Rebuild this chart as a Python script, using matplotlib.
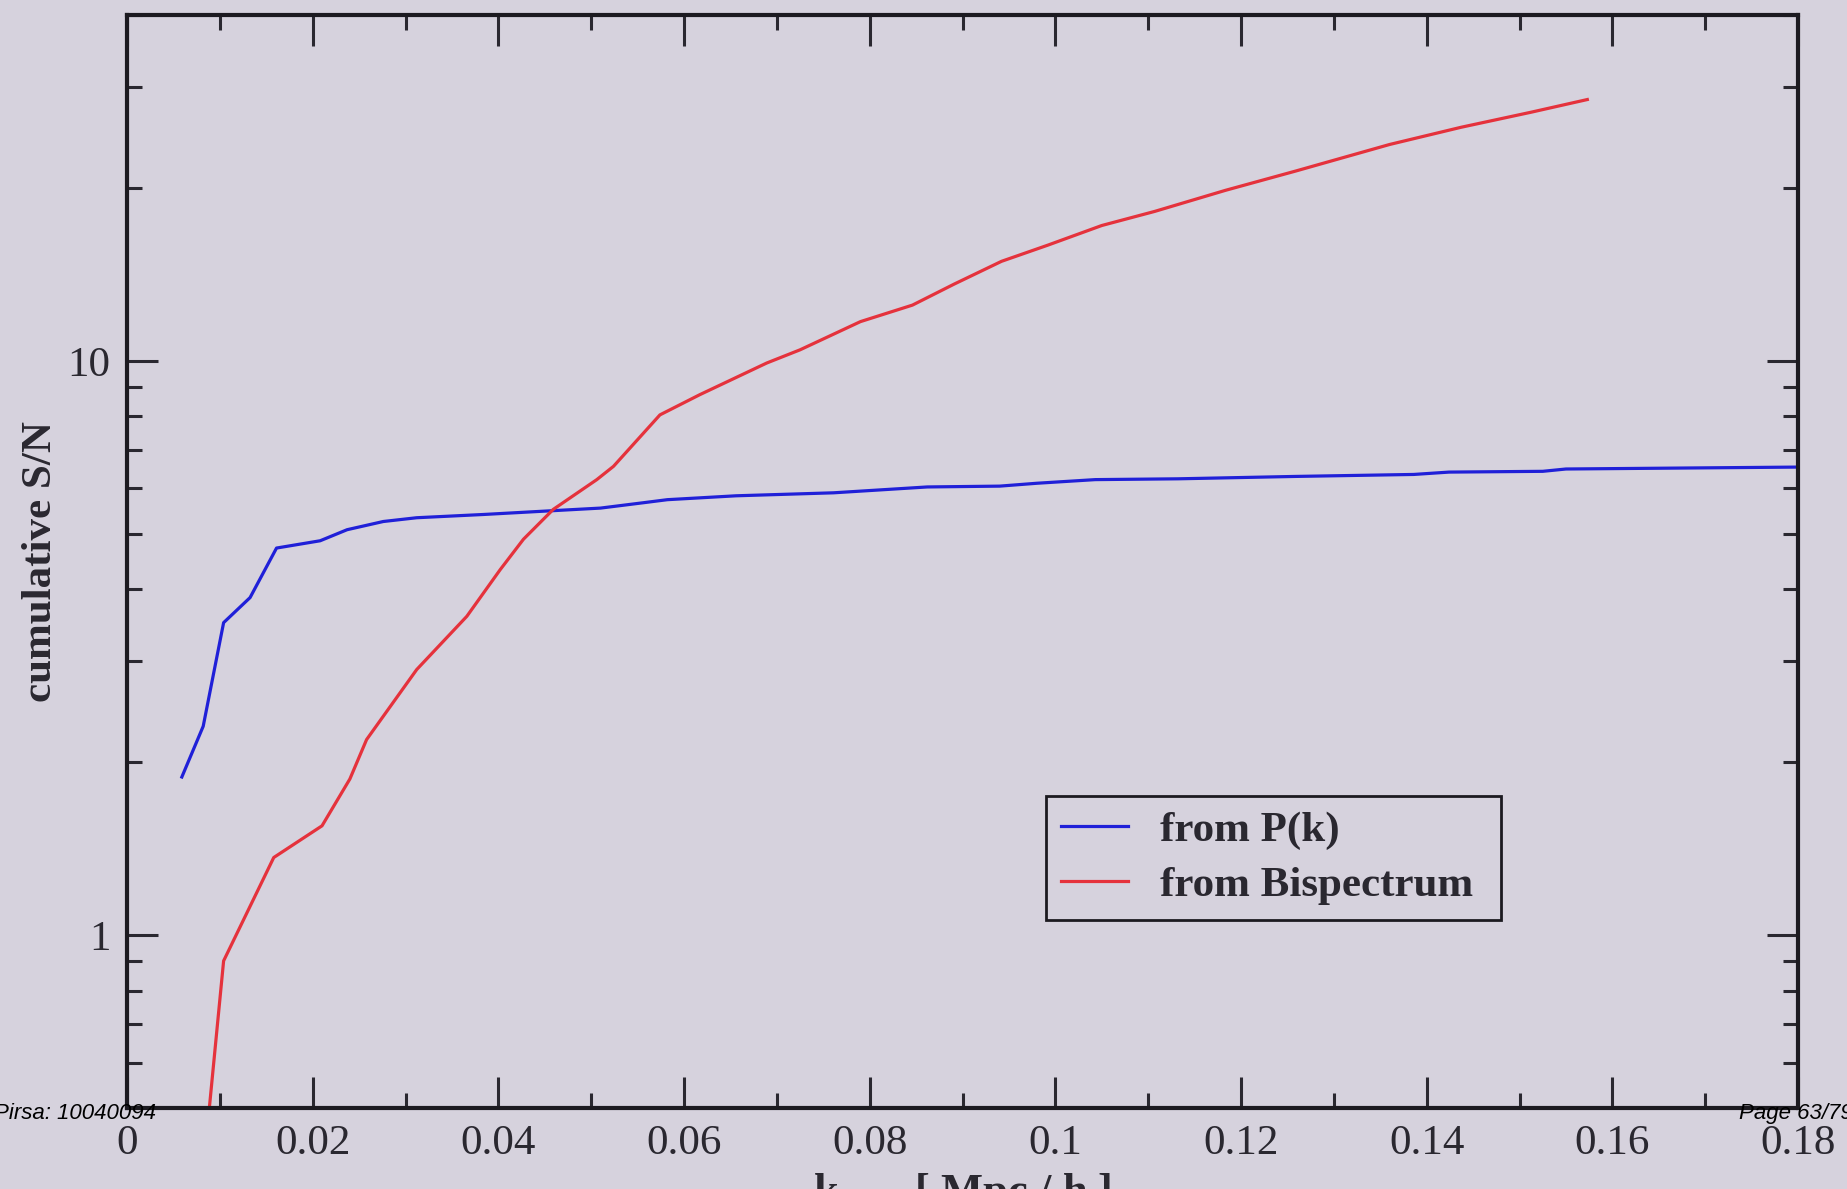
import matplotlib
matplotlib.use('Agg')
import matplotlib.pyplot as plt
from matplotlib.ticker import LogLocator, NullFormatter, FuncFormatter, MultipleLocator

# cumulative signal-to-noise versus maximum wavenumber
k_pk = [0.0059, 0.0082, 0.0104, 0.01325, 0.0161, 0.0208, 0.0237, 0.0276, 0.0312,
        0.0384, 0.0456, 0.051, 0.0556, 0.0582, 0.0656, 0.0761, 0.0862, 0.094, 0.098,
        0.1043, 0.1132, 0.1259, 0.1386, 0.1424, 0.1525, 0.155, 0.18]
sn_pk = [1.885, 2.31, 3.50, 3.87, 4.72, 4.86, 5.08, 5.25, 5.33,
         5.40, 5.48, 5.54, 5.66, 5.73, 5.82, 5.89, 6.03, 6.05, 6.12,
         6.21, 6.23, 6.29, 6.34, 6.40, 6.42, 6.48, 6.53]

k_bs = [0.0087, 0.0104, 0.0158, 0.021, 0.024, 0.0258, 0.0312, 0.0366, 0.0402,
        0.0427, 0.0459, 0.0506, 0.0524, 0.0574, 0.0617, 0.0689, 0.0725, 0.079,
        0.0846, 0.0891, 0.0942, 0.0992, 0.105, 0.1107, 0.1183, 0.1259, 0.136,
        0.1437, 0.1513, 0.1573]
sn_bs = [0.47, 0.902, 1.365, 1.55, 1.87, 2.19, 2.90, 3.59, 4.33,
         4.89, 5.51, 6.21, 6.55, 8.05, 8.73, 9.91, 10.45, 11.7,
         12.5, 13.6, 14.9, 15.9, 17.2, 18.2, 19.8, 21.4, 23.8,
         25.5, 27.1, 28.5]

bg = '#d6d2dd'
ink = '#2a2830'
serif = ['Liberation Serif', 'DejaVu Serif']

plt.rcParams['font.family'] = serif
plt.rcParams['mathtext.fontset'] = 'custom'
plt.rcParams['mathtext.rm'] = 'Liberation Serif'
plt.rcParams['mathtext.it'] = 'Liberation Serif:italic'

fig = plt.figure(figsize=(18.47, 11.89), dpi=100, facecolor=bg)
ax = fig.add_axes([0.0688, 0.0681, 0.9047, 0.9193], facecolor=bg)

ax.plot(k_pk, sn_pk, color='#2020d8', lw=2.3, label='from P(k)')
ax.plot(k_bs, sn_bs, color='#e5323c', lw=2.3, label='from Bispectrum')

ax.set_yscale('log')
ax.set_xlim(0, 0.18)
ax.set_ylim(0.5, 40)

ax.xaxis.set_major_locator(MultipleLocator(0.02))
ax.xaxis.set_minor_locator(MultipleLocator(0.01))
ax.xaxis.set_major_formatter(FuncFormatter(lambda v, p: '%g' % round(v, 3)))
ax.yaxis.set_major_locator(LogLocator(base=10, numticks=10))
ax.yaxis.set_minor_locator(LogLocator(base=10, subs=range(2, 10), numticks=20))
ax.yaxis.set_major_formatter(FuncFormatter(lambda v, p: '%g' % v))
ax.yaxis.set_minor_formatter(NullFormatter())

ax.tick_params(which='both', direction='in', top=True, right=True,
               color=ink, width=2.2, labelcolor=ink, labelsize=31)
ax.tick_params(which='major', length=22, pad=12)
ax.tick_params(which='minor', length=11)
for s in ax.spines.values():
    s.set_linewidth(3)
    s.set_color('#1c1a20')

ax.set_ylabel('cumulative S/N', fontsize=31, fontweight='bold', color=ink)
ax.yaxis.set_label_coords(-0.04, 0.5)
ax.set_xlabel(r'k$_{\rm max}$  [ Mpc / h ]', fontsize=32, fontweight='bold', color=ink)
ax.xaxis.set_label_coords(0.5, -0.058)

leg = ax.legend(loc='lower left', bbox_to_anchor=(0.55, 0.172, 0.272, 0.113),
                mode='expand', fontsize=31, frameon=True, fancybox=False,
                handlelength=1.55, handletextpad=0.75, borderpad=0.35,
                borderaxespad=0, labelspacing=0.36)
leg.get_frame().set_edgecolor('#1c1a20')
leg.get_frame().set_linewidth(2)
leg.get_frame().set_facecolor(bg)
leg.get_frame().set_alpha(1)
for t in leg.get_texts():
    t.set_color(ink)
    t.set_fontweight('bold')

# lecture archive stamps
fig.text(-0.003, 0.059, 'Pirsa: 10040094', fontsize=16, style='italic',
         family=['Liberation Sans', 'DejaVu Sans'], color='black', zorder=10)
fig.text(1.003, 0.059, 'Page 63/79', fontsize=16, style='italic', ha='right',
         family=['Liberation Sans', 'DejaVu Sans'], color='black', zorder=10)

fig.savefig('out.png', dpi=100, facecolor=bg)
